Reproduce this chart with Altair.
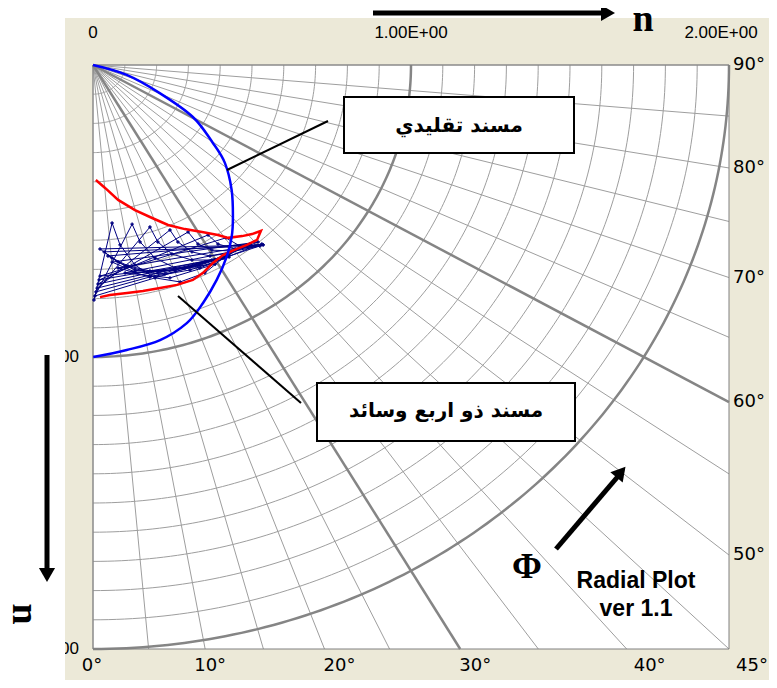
import numpy as np
import pandas as pd
import altair as alt

# ---------------- data ----------------
top_labels = ["0", "1.00E+00", "2.00E+00"]
top_values = [0.0, 1.0, 2.0]
top_dx = [0, 0, -8]
left_labels = ["1.00E+00", "2.00E+00"]
left_values = [1.0, 2.0]
bottom_angles = [0, 10, 20, 30, 40, 45]
bottom_dx = [-1, 5, 15, 15, 23, 23]
right_angles = [90, 80, 70, 60, 50]

grid_radii = [round(0.1 * k, 1) for k in range(1, 21)]
thick_radii = [1.0, 2.0]
radial_angles = list(range(0, 91, 5))
thick_angles = [30, 60]

# conventional bearing (blue)
blue_n = [0.000, 0.106, 0.211, 0.314, 0.377, 0.415, 0.436, 0.440, 0.436, 0.420,
          0.389, 0.346, 0.295, 0.211, 0.106, 0.001]
blue_u = [0.000, 0.034, 0.097, 0.178, 0.267, 0.336, 0.428, 0.521, 0.589, 0.658,
          0.736, 0.815, 0.884, 0.942, 0.976, 1.000]

# four-pad bearing (red)
red_n = [0.009, 0.038, 0.079, 0.132, 0.186, 0.236, 0.289, 0.343, 0.393, 0.425,
         0.469, 0.500, 0.528, 0.516, 0.484, 0.443, 0.409, 0.377, 0.346, 0.314,
         0.264, 0.211, 0.157, 0.107, 0.053, 0.022]
red_u = [0.394, 0.421, 0.462, 0.497, 0.524, 0.548, 0.562, 0.572, 0.582, 0.592,
         0.586, 0.579, 0.568, 0.599, 0.616, 0.634, 0.651, 0.678, 0.712, 0.736,
         0.753, 0.764, 0.774, 0.781, 0.788, 0.795]

# navy orbit
navy_n = [0.003, 0.060, 0.085, 0.132, 0.195, 0.274, 0.352, 0.409, 0.535, 0.022,
          0.060, 0.110, 0.179, 0.258, 0.336, 0.412,
          0.006, 0.123, 0.148, 0.195, 0.258, 0.336, 0.415, 0.509, 0.035,
          0.079, 0.132, 0.204, 0.289, 0.418,
          0.009, 0.179, 0.204, 0.248, 0.311, 0.374, 0.425, 0.494, 0.047,
          0.101, 0.173, 0.258, 0.352, 0.421,
          0.013, 0.242, 0.267, 0.311, 0.368, 0.431, 0.519, 0.060,
          0.132, 0.226, 0.330, 0.425,
          0.016, 0.299, 0.330, 0.374, 0.437, 0.531, 0.079,
          0.179, 0.305, 0.428,
          0.019, 0.362, 0.393, 0.447, 0.525, 0.101,
          0.242, 0.384,
          0.022, 0.418, 0.462, 0.535]
navy_u = [0.805, 0.541, 0.616, 0.685, 0.729, 0.743, 0.712, 0.661, 0.616, 0.630,
          0.661, 0.688, 0.705, 0.702, 0.682, 0.658,
          0.791, 0.545, 0.606, 0.661, 0.695, 0.695, 0.661, 0.620, 0.640,
          0.675, 0.702, 0.709, 0.695, 0.654,
          0.777, 0.555, 0.606, 0.647, 0.668, 0.668, 0.651, 0.613, 0.654,
          0.688, 0.709, 0.702, 0.675, 0.654,
          0.764, 0.565, 0.606, 0.640, 0.654, 0.644, 0.606, 0.675,
          0.709, 0.716, 0.688, 0.654,
          0.750, 0.572, 0.613, 0.634, 0.637, 0.613, 0.695,
          0.726, 0.702, 0.658,
          0.736, 0.582, 0.613, 0.630, 0.620, 0.712,
          0.729, 0.682,
          0.723, 0.592, 0.620, 0.616]

# ---------------- layout ----------------
W, H = 636, 584
PL, PT = 85, 57
VW, VH = 761, 672
PR, PB = VW - PL - W, VH - PT - H
OX, OY = 93, 65  # page position of plot origin

xs = alt.Scale(domain=[0, 2], nice=False, zero=False)
ys = alt.Scale(domain=[0, 2], nice=False, zero=False, reverse=True)
one = pd.DataFrame({"k": [0]})

def X(f):
    return alt.X(f, type="quantitative", scale=xs, axis=None)

def Y(f):
    return alt.Y(f, type="quantitative", scale=ys, axis=None)

def px_rule(x1, y1, x2, y2, w, color="black"):
    return alt.Chart(one).mark_rule(strokeWidth=w, color=color, strokeCap="butt").encode(
        x=alt.value(x1 - OX), y=alt.value(y1 - OY),
        x2=alt.value(x2 - OX), y2=alt.value(y2 - OY))

def px_rect(x1, y1, x2, y2, fill, stroke=None, sw=0):
    kw = dict(fill=fill, strokeWidth=sw)
    if stroke:
        kw["stroke"] = stroke
    return alt.Chart(one).mark_rect(**kw).encode(
        x=alt.value(x1 - OX), y=alt.value(y1 - OY),
        x2=alt.value(x2 - OX), y2=alt.value(y2 - OY))

def px_text(x, y, text, size, font, bold=True, angle=0, align="center"):
    kw = dict(text=text, fontSize=size, font=font, fontWeight="bold" if bold else "normal",
              align=align, baseline="middle", color="black")
    if angle:
        kw["angle"] = angle
    return alt.Chart(one).mark_text(**kw).encode(x=alt.value(x - OX), y=alt.value(y - OY))

def px_head(x, y, shape, size, angle=0):
    kw = dict(shape=shape, size=size, filled=True, color="black", opacity=1, strokeWidth=0)
    if angle:
        kw["angle"] = angle
    return alt.Chart(one).mark_point(**kw).encode(x=alt.value(x - OX), y=alt.value(y - OY))

# ---------------- grid ----------------
arc_rows = []
for r in grid_radii:
    for i, t in enumerate(np.linspace(0, 90, 121)):
        arc_rows.append({"r": r, "o": i, "n": r * np.sin(np.radians(t)),
                         "u": r * np.cos(np.radians(t)),
                         "thick": r in thick_radii})
arcs = pd.DataFrame(arc_rows)

rad_rows = []
for a in radial_angles:
    if a <= 45:
        en, eu = 2 * np.tan(np.radians(a)), 2.0
    else:
        en, eu = 2.0, 2 / np.tan(np.radians(a))
    for o, (n, u) in enumerate([(0, 0), (en, eu)]):
        rad_rows.append({"a": a, "o": o, "n": n, "u": u, "thick": a in thick_angles})
rads = pd.DataFrame(rad_rows)

thin_c, thick_c = "#9e9e9e", "#858585"

arc_thin = alt.Chart(arcs[~arcs.thick]).mark_line(color=thin_c, strokeWidth=1).encode(
    x=X("n"), y=Y("u"), detail="r:N", order="o:Q")
arc_thick = alt.Chart(arcs[arcs.thick]).mark_line(color=thick_c, strokeWidth=2.5).encode(
    x=X("n"), y=Y("u"), detail="r:N", order="o:Q")
rad_thin = alt.Chart(rads[~rads.thick]).mark_line(color=thin_c, strokeWidth=1).encode(
    x=X("n"), y=Y("u"), detail="a:N", order="o:Q")
rad_thick = alt.Chart(rads[rads.thick]).mark_line(color=thick_c, strokeWidth=2.5).encode(
    x=X("n"), y=Y("u"), detail="a:N", order="o:Q")

# ---------------- curves ----------------
blue = pd.DataFrame({"n": blue_n, "u": blue_u, "o": range(len(blue_n))})
red = pd.DataFrame({"n": red_n, "u": red_u, "o": range(len(red_n))})
navy = pd.DataFrame({"n": navy_n, "u": navy_u, "o": range(len(navy_n))})

navy_line = alt.Chart(navy).mark_line(color="#000080", strokeWidth=1,
    point=alt.OverlayMarkDef(shape="cross", size=12, color="#000080", filled=True)).encode(
    x=X("n"), y=Y("u"), order="o:Q")
red_line = alt.Chart(red).mark_line(color="#ff0000", strokeWidth=2.5).encode(
    x=X("n"), y=Y("u"), order="o:Q")
blue_line = alt.Chart(blue).mark_line(color="#0000ff", strokeWidth=2.5, interpolate="cardinal").encode(
    x=X("n"), y=Y("u"), order="o:Q")

# ---------------- tick labels ----------------
top_df = pd.DataFrame({"n": [v + d * 2 / W for v, d in zip(top_values, top_dx)], "t": top_labels})
top_txt = alt.Chart(top_df).mark_text(font="Liberation Sans", fontSize=17, baseline="middle").encode(
    x=X("n"), y=alt.value(33 - OY), text="t:N")

left_df = pd.DataFrame({"u": left_values, "t": left_labels})
left_txt = alt.Chart(left_df).mark_text(font="Liberation Sans", fontSize=17, baseline="middle",
                                        align="right").encode(
    x=alt.value(79 - OX), y=Y("u"), text="t:N")

bot_df = pd.DataFrame({
    "n": [2 * np.tan(np.radians(a)) + d * 2 / W for a, d in zip(bottom_angles, bottom_dx)],
    "t": [f"{a}°" for a in bottom_angles]})
bot_txt = alt.Chart(bot_df).mark_text(font="DejaVu Sans", fontSize=18, baseline="middle").encode(
    x=X("n"), y=alt.value(666 - OY), text="t:N")

right_df = pd.DataFrame({
    "u": [2 / np.tan(np.radians(a)) for a in right_angles],
    "t": [f"{a}°" for a in right_angles]})
right_txt = alt.Chart(right_df).mark_text(font="DejaVu Sans", fontSize=18, baseline="middle",
                                          align="left").encode(
    x=alt.value(733 - OX), y=Y("u"), text="t:N")

# ---------------- assemble ----------------
layers = [
    px_rect(65, 18, 8 + VW, 8 + VH, "#ece9d8"),
    px_rect(OX, OY, OX + W, OY + H, "white"),
    arc_thin, rad_thin, arc_thick, rad_thick,
    px_rect(OX, OY, OX + W, OY + H, "transparent", "#808080", 1),
    navy_line, red_line, blue_line,
    # annotations
    px_rule(328, 121, 227, 170, 2),
    px_rule(178, 296, 301, 403, 2),
    px_rect(344, 97, 574, 153, "white", "black", 2),
    px_text(459, 126, "مسند تقليدي", 20, "DejaVu Sans"),
    px_rect(317, 383, 575, 441, "white", "black", 2),
    px_text(446, 411, "مسند ذو اربع وسائد", 20, "DejaVu Sans"),
    top_txt, left_txt, bot_txt, right_txt,
    px_rect(8, 8, 65, 8 + VH, "white"),
    # axis arrows
    px_rule(373, 13, 606, 13, 5),
    px_head(608, 13, "triangle-right", 260),
    px_text(643, 20, "n", 38, "Liberation Serif"),
    px_rule(47, 355, 47, 572, 5),
    px_head(47, 575, "triangle-down", 260),
    px_text(24, 614, "n", 38, "Liberation Serif", angle=90),
    # phi arrow
    px_rule(556, 549, 620, 474, 5),
    px_head(621, 472, "triangle-up", 260, angle=40),
    px_text(527, 567, "Φ", 36, "Liberation Serif"),
    px_text(636, 581, "Radial Plot", 23, "Liberation Sans"),
    px_text(636, 609, "ver 1.1", 23, "Liberation Sans"),
]

chart = alt.layer(*layers).properties(
    width=W, height=H,
    padding={"left": PL, "top": PT, "right": PR, "bottom": PB},
    autosize=alt.AutoSizeParams(type="none"),
    background="white",
).configure_view(stroke=None)

chart.save("out.html", embed_options={"renderer": "svg", "actions": False})
